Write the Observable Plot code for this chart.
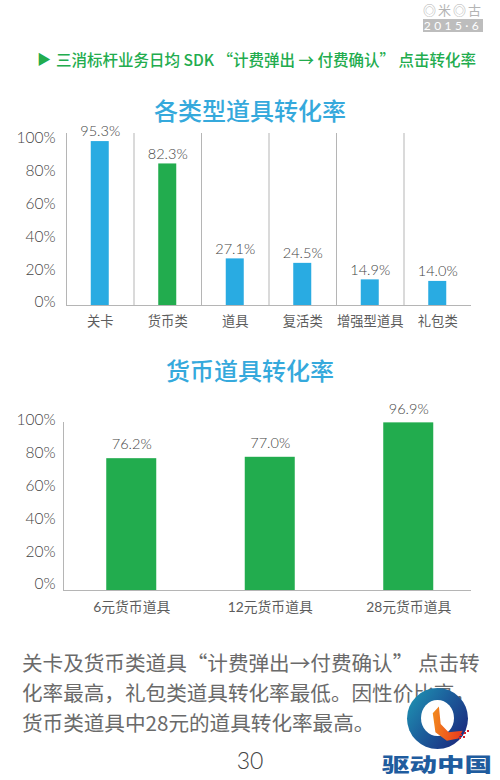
<!DOCTYPE html>
<html lang="zh">
<head>
<meta charset="utf-8">
<script src="https://cdn.jsdelivr.net/npm/d3@7"></script>
<script src="https://cdn.jsdelivr.net/npm/@observablehq/plot@0.6"></script>
<style>
html,body{margin:0;padding:0;background:#fff;width:500px;height:780px;overflow:hidden}
body{position:relative;font-family:"Lato","Noto Sans CJK SC",sans-serif;color:#666}
.abs{position:absolute;white-space:nowrap}
.abs svg{display:block;background:transparent;overflow:visible}
.title{left:0;width:500px;text-align:center;font-size:24px;line-height:30px;color:#35a9dc;font-weight:500;font-family:"Noto Sans CJK SC",sans-serif}
#ring{left:407px;top:688px;width:61px;height:61px;border-radius:50%;background:linear-gradient(125deg,#1f9ab5 0%,#1c5f9c 45%,#1b1f78 100%)}
#hole{left:421px;top:700px;width:33px;height:36px;border-radius:50%;background:#fff}
#beak{left:431px;top:705px;width:44px;height:38px;background:linear-gradient(100deg,#f2921f 0%,#ee4d1c 55%,#d3202a 100%);clip-path:polygon(4% 22%,18% 4%,22% 50%,40% 72%,72% 68%,62% 88%,36% 94%,10% 72%)}
#dots{left:460px;top:734px;width:2px;height:2px;background:#d3202a;box-shadow:4px -2px 0 #d3202a,7px -4px 0 #d3202a,-1px 3px 0 #d3202a,3px 2px 0 #d3202a}
</style>
</head>
<body>
<div class="abs" style="left:423px;top:3px;width:60px;font-size:13px;line-height:14px;height:14px;letter-spacing:2px;color:#b4b4b4;font-family:'Noto Sans CJK SC'">◎米◎古</div>
<div class="abs" style="left:423px;top:19px;width:60px;height:13px;background:#bdbdbd;color:#fff;font:12px/13px Lato;letter-spacing:3.4px;text-align:center">2015·6</div>

<div class="abs" style="left:37px;top:48px;font-size:14px;line-height:22px;color:#22ac4e">▶</div>
<div class="abs" style="left:56px;top:47px;font:500 15.5px/24px 'Noto Sans CJK SC';color:#22ac4e">三消标杆业务日均 SDK “计费弹出 → 付费确认” 点击转化率</div>

<div class="abs title" style="top:95px">各类型道具转化率</div>
<div class="abs title" style="top:355px">货币道具转化率</div>

<div class="abs" id="c1" style="left:0;top:120px"></div>
<div class="abs" id="c1t" style="left:0;top:120px"></div>
<div class="abs" id="c2" style="left:0;top:395px"></div>
<div class="abs" id="c2t" style="left:0;top:395px"></div>

<div class="abs" style="left:22px;top:647px;width:460px;font:20.6px/30px 'Noto Sans CJK SC';color:#6a6a6a">关卡及货币类道具“计费弹出→付费确认” 点击转<br>化率最高，礼包类道具转化率最低。因性价比高，<br>货币类道具中28元的道具转化率最高。</div>
<div class="abs" style="left:0;width:500px;top:746px;text-align:center;font:300 23px/28px Lato;color:#444">30</div>

<div class="abs" id="ring"></div>
<div class="abs" id="hole"></div>
<div class="abs" id="beak"></div>
<div class="abs" id="dots"></div>
<div class="abs" style="left:382px;top:750px;font:900 27.5px/26px 'Noto Sans CJK SC';height:26px;color:#1f5c9e;transform:scaleY(.72)">驱动中国</div>

<script>
// Chart 1: 各类型道具转化率
const itemTypes = ["关卡", "货币类", "道具", "复活类", "增强型道具", "礼包类"];
const itemRates = [95.3, 82.3, 27.1, 24.5, 14.9, 14.0];
const itemGroups = ["other", "currency", "other", "other", "other", "other"];

// Chart 2: 货币道具转化率
const currencyItems = ["6元货币道具", "12元货币道具", "28元货币道具"];
const currencyRates = [76.2, 77.0, 96.9];

const tickValues = [0, 20, 40, 60, 80, 100];
const pct = d => d + "%";
const ink = "#444";
const lineColor = "#b5b5b5";
const groupColors = {domain: ["other", "currency"], range: ["#29abe2", "#22ac4e"]};
const style = {fontFamily: "Lato, 'Noto Sans CJK SC', sans-serif", background: "transparent", overflow: "visible"};

// Tick labels of the source sit on a slightly tighter ladder than its bars,
// so each chart gets a label axis with its own range, laid over the bars.
function labelAxis(id, height, range) {
  document.getElementById(id).append(Plot.plot({
    width: 500, height, marginLeft: 63, marginRight: 30, marginTop: 0, marginBottom: 0,
    style: {...style, fontSize: "15.5px", fontWeight: 300},
    x: {axis: null, domain: [0, 1]},
    y: {domain: [0, 100], range},
    marks: [Plot.axisY(tickValues, {tickSize: 0, tickPadding: 8, tickFormat: pct, fill: ink, label: null})]
  }));
}

// Chart 1
const w1 = 471 - 66, step1 = w1 / itemTypes.length, pad1 = 1 - 18 / step1;
document.getElementById("c1").append(Plot.plot({
  width: 500, height: 220, marginLeft: 66, marginRight: 29, marginTop: 13, marginBottom: 35,
  style: {...style, fontSize: "13.3px"},
  x: {domain: itemTypes, paddingInner: pad1, paddingOuter: pad1 / 2, round: false, label: null},
  y: {domain: [0, 100], axis: null},
  color: groupColors,
  marks: [
    Plot.ruleX(itemTypes, {x: d => d, dx: -step1 / 2, stroke: lineColor, strokeWidth: 1}),
    Plot.barY(itemRates, {x: itemTypes, y: d => d, fill: itemGroups}),
    Plot.ruleY([0], {stroke: lineColor, strokeWidth: 1}),
    Plot.text(itemRates, {x: itemTypes, y: d => d, text: d => d.toFixed(1) + "%", dy: -10, fill: ink, fontSize: 14.5, fontWeight: 300}),
    Plot.axisX({tickSize: 0, tickPadding: 11, fill: "#5c5c5c", label: null, fontSize: 13.3})
  ]
}));
labelAxis("c1t", 220, [182, 18]);

// Chart 2
const pad2 = 1 - 50 / 138.5;
document.getElementById("c2").append(Plot.plot({
  width: 500, height: 235, marginLeft: 63, marginRight: 30, marginTop: 27, marginBottom: 40,
  style: {...style, fontSize: "13.8px"},
  x: {domain: currencyItems, range: [62, 477.5], paddingInner: pad2, paddingOuter: pad2 / 2, round: false, label: null},
  y: {domain: [0, 100], range: [195, 22], axis: null},
  marks: [
    Plot.barY(currencyRates, {x: currencyItems, y: d => d, fill: "#22ac4e"}),
    Plot.frame({anchor: "left", stroke: lineColor}),
    Plot.frame({anchor: "bottom", stroke: lineColor}),
    Plot.text(currencyRates, {x: currencyItems, y: d => d, text: d => d.toFixed(1) + "%", dy: -14, fill: ink, fontSize: 14.5, fontWeight: 300}),
    Plot.axisX({tickSize: 0, tickPadding: 12, fill: "#5c5c5c", label: null, fontSize: 13.8})
  ]
}));
labelAxis("c2t", 235, [189, 25]);
</script>
</body>
</html>
